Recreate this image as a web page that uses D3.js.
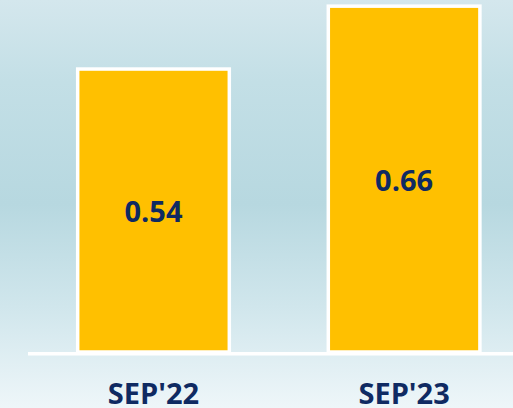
<!DOCTYPE html>
<html>
<head>
<meta charset="utf-8">
<script src="https://cdn.jsdelivr.net/npm/d3@7"></script>
<style>
  html, body { margin: 0; padding: 0; }
  svg { display: block; }
</style>
</head>
<body>
<script>
// Period labels and their values
const categories = ["SEP'22", "SEP'23"];
const values = [0.54, 0.66];
const valueLabels = ["0.54", "0.66"];

const width = 513, height = 408;
const baseY = 352;

const svg = d3.select("body").append("svg")
  .attr("width", width)
  .attr("height", height);

// Soft blue backdrop: pale at the top, deeper in the middle, near white at the bottom
const defs = svg.append("defs");
const grad = defs.append("linearGradient")
  .attr("id", "bg").attr("x1", 0).attr("y1", 0).attr("x2", 0).attr("y2", 1);
[[0, "#d4e7ed"], [0.2, "#c3dfe6"], [0.5, "#b7d8e0"], [0.75, "#d0e6ec"], [1, "#eef6f9"]]
  .forEach(([o, c]) => grad.append("stop").attr("offset", o).attr("stop-color", c));

svg.append("rect").attr("width", width).attr("height", height).attr("fill", "url(#bg)");

const x = d3.scaleBand()
  .domain(categories)
  .range([0, 557.6])
  .paddingInner(0.395)
  .paddingOuter(0.31);

const y = d3.scaleLinear()
  .domain([0, 352 / 524])
  .range([baseY, 0]);

const cx = c => x(c) + x.bandwidth() / 2;

const g = svg.append("g");

g.selectAll("rect.bar")
  .data(values)
  .join("rect")
  .attr("class", "bar")
  .attr("x", (d, i) => x(categories[i]))
  .attr("y", d => y(d))
  .attr("width", x.bandwidth())
  .attr("height", d => y(0) - y(d))
  .attr("fill", "#ffc000")
  .attr("stroke", "#ffffff")
  .attr("stroke-width", 3.5);

// Baseline
svg.append("line")
  .attr("x1", 28).attr("x2", width)
  .attr("y1", baseY + 1.7).attr("y2", baseY + 1.7)
  .attr("stroke", "#ffffff")
  .attr("stroke-width", 3.5);

// Value labels centred in each bar
g.selectAll("text.val")
  .data(values)
  .join("text")
  .attr("class", "val")
  .attr("x", (d, i) => cx(categories[i]))
  .attr("y", d => (y(d) + y(0)) / 2)
  .attr("dy", "0.4em")
  .attr("text-anchor", "middle")
  .attr("font-family", "'Open Sans', sans-serif")
  .attr("font-weight", 700)
  .attr("font-size", 29)
  .attr("fill", "#0f2a62")
  .text((d, i) => valueLabels[i]);

// Category axis labels
const xAxis = d3.axisBottom(x).tickSize(0).tickPadding(0);
const ax = svg.append("g")
  .attr("transform", `translate(0, ${baseY})`)
  .call(xAxis);
ax.select(".domain").remove();
ax.selectAll("text")
  .attr("y", 52)
  .attr("dy", 0)
  .attr("font-family", "'Open Sans', sans-serif")
  .attr("font-weight", 700)
  .attr("font-size", 29)
  .attr("fill", "#0f2a62");
</script>
</body>
</html>
